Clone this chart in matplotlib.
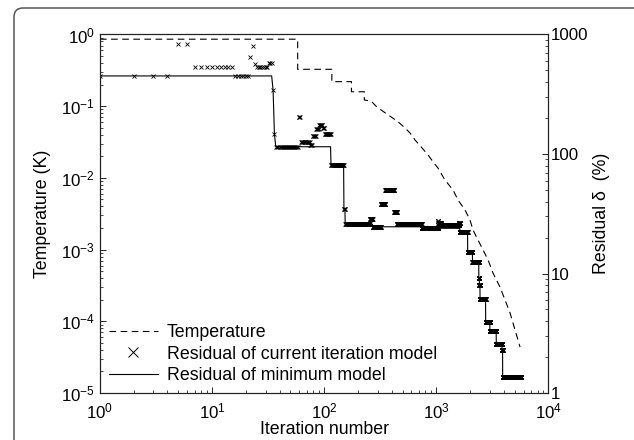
import numpy as np
import matplotlib
matplotlib.use("Agg")
import matplotlib.pyplot as plt
from matplotlib.lines import Line2D
from matplotlib.patches import FancyBboxPatch
from matplotlib.ticker import FuncFormatter

plt.rcParams['font.family'] = ['Liberation Sans', 'DejaVu Sans']
plt.rcParams['mathtext.fontset'] = 'custom'
plt.rcParams['mathtext.rm'] = 'Liberation Sans'
plt.rcParams['mathtext.it'] = 'Liberation Sans:italic'
plt.rcParams['mathtext.default'] = 'regular'

#! --- data --- !#
# temperature schedule (K), left axis
temp_iter = [1, 58, 58, 117, 117, 175, 175, 228, 228, 262, 294, 349, 400, 455, 526, 583,
             646, 741, 844, 934, 1036, 1196, 1410, 1563, 1805, 1997, 2124, 2355, 2611,
             2893, 3206, 3703, 4104, 4545, 4834, 5582]
temp_K = [0.86, 0.86, 0.327, 0.327, 0.22, 0.22, 0.159, 0.159, 0.122, 0.118, 0.098, 0.081,
          0.070, 0.0608, 0.0497, 0.0423, 0.0338, 0.0265, 0.0209, 0.0168, 0.0137, 0.0093,
          0.0068, 0.0049, 0.00357, 0.00259, 0.00188, 0.00136, 0.00099, 0.00072, 0.00047,
          0.0003, 0.000198, 0.000131, 0.0000947, 0.0000438]

# residual of the current iteration model (%), right axis
# each entry: first iteration of a run that sits at the same residual
res_start = [1, 5, 7, 16, 22, 23, 24, 25, 32, 35, 36, 37, 59, 62, 75, 79, 85, 90, 97, 101,
             115, 150, 154, 255, 271, 321, 351, 421, 446, 741, 1041, 1045, 1101, 1601, 1621,
             1901, 2101, 2391, 2421, 2451, 2751, 3001, 3421, 3851, 3901]
res_value = [450, 825, 537, 450, 651, 804, 565, 537, 573, 343, 146, 115, 205, 127, 118, 142,
             161, 175, 164, 148, 80.5, 34.5, 25.8, 28.4, 24.6, 38.5, 50, 32.9, 25.9, 23.9,
             27.5, 26.6, 25.5, 26.6, 22.4, 15.2, 12.6, 9.1, 8.0, 6.1, 3.95, 3.33, 2.57,
             2.29, 1.35]
last_iter = 5650

# expand runs to one value per iteration
ends = res_start[1:] + [last_iter + 1]
it = np.concatenate([np.arange(s, e) for s, e in zip(res_start, ends)])
res = np.concatenate([np.full(e - s, v, dtype=float) for s, e, v in zip(res_start, ends, res_value)])
res_min = np.minimum.accumulate(res)

fig = plt.figure(figsize=(6.34, 4.4), dpi=100)
ax1 = fig.add_axes([0.1577, 0.1068, 0.7073, 0.8148])
ax2 = ax1.twinx()

ax1.plot(temp_iter, temp_K, color='black', lw=0.8, linestyle=(0, (6, 4)))
ax2.plot(it, res, linestyle='none', marker='x', markersize=3.4, mew=0.6, color='black')
ax2.plot(it, res_min, color='black', lw=0.8)

ax1.set_xscale('log')
ax1.set_yscale('log')
ax2.set_yscale('log')
ax1.set_xlim(1, 1e4)
ax1.set_ylim(1e-5, 1)
ax2.set_ylim(1, 1000)
ax2.yaxis.set_major_formatter(FuncFormatter(lambda v, p: f"{v:g}"))

ax1.tick_params(which='both', direction='in', top=False, right=False, labelsize=12.2)
ax1.tick_params(axis='x', pad=6)
ax1.tick_params(which='major', length=4, width=0.6)
ax1.tick_params(which='minor', length=2.2, width=0.5)
ax2.tick_params(which='both', direction='in', labelsize=12.2, pad=2)
ax2.tick_params(which='major', length=4, width=0.6)
ax2.tick_params(which='minor', length=2.2, width=0.5)
for ax in (ax1, ax2):
    for sp in ax.spines.values():
        sp.set_linewidth(0.8)
        sp.set_color('#222222')

ax1.set_xlabel("Iteration number", fontsize=12.8, labelpad=0)
ax1.set_ylabel("Temperature (K)", fontsize=12.8, labelpad=7)
ax2.set_ylabel("Residual δ  (%)", fontsize=12.8, labelpad=3)

handles = [Line2D([], [], color='black', lw=0.8, linestyle=(0, (6, 4))),
           Line2D([], [], color='black', linestyle='none', marker='x', markersize=6.5, mew=0.7),
           Line2D([], [], color='black', lw=0.8)]
labels = ["Temperature", "Residual of current iteration model", "Residual of minimum model"]
ax2.legend(handles, labels, loc='lower left', bbox_to_anchor=(0.0, 0.0), frameon=False,
           fontsize=12.8, handlelength=2.75, handletextpad=0.5, labelspacing=0.25,
           borderaxespad=0.2, borderpad=0.3)

# rounded panel frame, cut off on the right and bottom
frame = FancyBboxPatch((0.14, -0.3), 6.6, 4.62, boxstyle="round,pad=0,rounding_size=0.09",
                       transform=fig.dpi_scale_trans, facecolor='none', edgecolor='#555555',
                       lw=1.1, clip_on=False)
fig.patches.append(frame)

plt.savefig("out.png", dpi=100)
